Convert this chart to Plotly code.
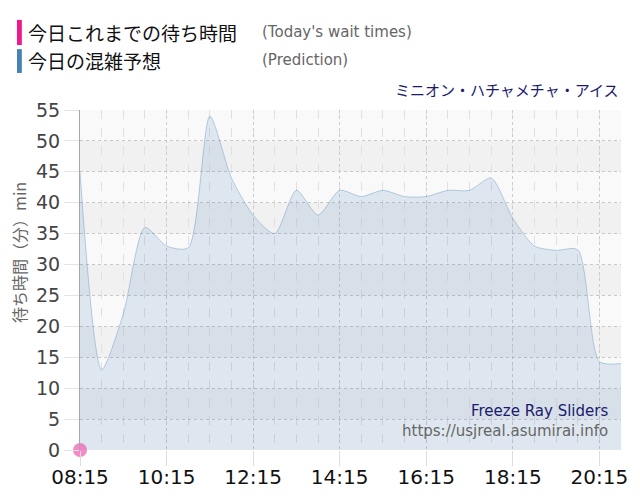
import plotly.graph_objects as go

# 予想待ち時間 (30分おき)
times = ["08:15", "08:45", "09:15", "09:45", "10:15", "10:45", "11:15", "11:45",
         "12:15", "12:45", "13:15", "13:45", "14:15", "14:45", "15:15", "15:45",
         "16:15", "16:45", "17:15", "17:45", "18:15", "18:45", "19:15", "19:45",
         "20:15", "20:45"]
prediction = [45, 13, 22, 36, 33, 32.7, 54, 44,
              38, 35, 42, 38, 42, 41, 42, 41,
              41, 42, 42, 44, 37.5, 33, 32.3, 32.4,
              14.3, 14]

# 今日の実績
actual_times = ["08:15"]
actual_waits = [0]

tick_labels = ["08:15", "10:15", "12:15", "14:15", "16:15", "18:15", "20:15"]
y_ticks = list(range(0, 56, 5))

DAY = "2024-01-01 "
x_pred = [DAY + t for t in times]
x_act = [DAY + t for t in actual_times]

JP = "Noto Sans CJK JP"
FONT = "DejaVu Sans"

fig = go.Figure()
fig.add_trace(go.Scatter(
    x=x_pred, y=prediction, mode="lines",
    line=dict(color="rgba(70,130,180,0.35)", width=1, shape="spline", smoothing=0.7),
    fill="tozeroy", fillcolor="rgba(70,130,180,0.15)",
    hoverinfo="skip", showlegend=False,
))
fig.add_trace(go.Scatter(
    x=x_act, y=actual_waits, mode="markers",
    marker=dict(color="rgba(240,100,180,0.75)", size=14),
    cliponaxis=False, showlegend=False,
))

# 背景の縞
shapes = []
for lo in y_ticks[:-1]:
    if (lo // 5) % 2 == 1:
        shapes.append(dict(type="rect", xref="paper", yref="y", x0=0, x1=1,
                           y0=lo, y1=lo + 5, fillcolor="#f1f1f1",
                           line_width=0, layer="below"))
# 凡例の色バー
shapes.append(dict(type="rect", xref="paper", yref="paper", x0=-0.1165, x1=-0.1075,
                   y0=1.191, y1=1.265, fillcolor="#f0198c", line_width=0))
shapes.append(dict(type="rect", xref="paper", yref="paper", x0=-0.1165, x1=-0.1075,
                   y0=1.109, y1=1.179, fillcolor="#4682b4", line_width=0))

annotations = [
    dict(text="今日これまでの待ち時間", x=-0.099, y=1.229, xref="paper", yref="paper",
         xanchor="left", yanchor="middle", showarrow=False,
         font=dict(family=JP, size=19, color="#111")),
    dict(text="(Today's wait times)", x=0.333, y=1.229, xref="paper", yref="paper",
         xanchor="left", yanchor="middle", showarrow=False,
         font=dict(family=FONT, size=15, color="#666")),
    dict(text="今日の混雑予想", x=-0.099, y=1.147, xref="paper", yref="paper",
         xanchor="left", yanchor="middle", showarrow=False,
         font=dict(family=JP, size=19, color="#111")),
    dict(text="(Prediction)", x=0.333, y=1.147, xref="paper", yref="paper",
         xanchor="left", yanchor="middle", showarrow=False,
         font=dict(family=FONT, size=15, color="#666")),
    dict(text="ミニオン・ハチャメチャ・アイス", x=1.0, y=1.059, xref="paper", yref="paper",
         xanchor="right", yanchor="middle", showarrow=False,
         font=dict(family=JP, size=15, color="#1a1a6e")),
    dict(text="Freeze Ray Sliders", x=0.98, y=0.115, xref="paper", yref="paper",
         xanchor="right", yanchor="middle", showarrow=False,
         font=dict(family=FONT, size=15, color="#1a1a6e")),
    dict(text="https://usjreal.asumirai.info", x=0.98, y=0.056, xref="paper", yref="paper",
         xanchor="right", yanchor="middle", showarrow=False,
         font=dict(family=FONT, size=15, color="#666")),
    dict(text="待ち時間（分）min", x=-0.1125, y=0.58, xref="paper", yref="paper",
         xanchor="center", yanchor="middle", textangle=-90, showarrow=False,
         font=dict(family=JP, size=16, color="#666")),
]

fig.update_layout(
    width=632, height=492,
    margin=dict(l=72, r=19, t=102, b=50),
    paper_bgcolor="white", plot_bgcolor="#f9f9f9",
    shapes=shapes, annotations=annotations,
    showlegend=False,
)
fig.update_xaxes(
    range=[x_pred[0], x_pred[-1]], automargin=False,
    tickvals=[DAY + t for t in tick_labels], ticktext=tick_labels,
    tickfont=dict(family=FONT, size=20, color="#111"),
    ticks="outside", ticklen=15, tickcolor="#ddd", ticklabelstandoff=-6,
    showgrid=True, gridcolor="#cccccc", griddash="dot", gridwidth=1,
    minor=dict(dtick=30 * 60 * 1000, tick0=x_pred[0], showgrid=True,
               gridcolor="#e0e0e0", griddash="dash", ticks=""),
    zeroline=False, showline=False,
)
fig.update_yaxes(
    range=[0, 55], tickvals=y_ticks, automargin=False,
    tickfont=dict(family=FONT, size=19, color="#444"),
    ticks="outside", ticklen=15, tickcolor="#e4e4e4",
    showgrid=True, gridcolor="#c8c8c8", griddash="dot", gridwidth=1,
    zeroline=False, showline=True, linecolor="#a0a8b0", linewidth=1,
)

fig.write_html("out.html")
